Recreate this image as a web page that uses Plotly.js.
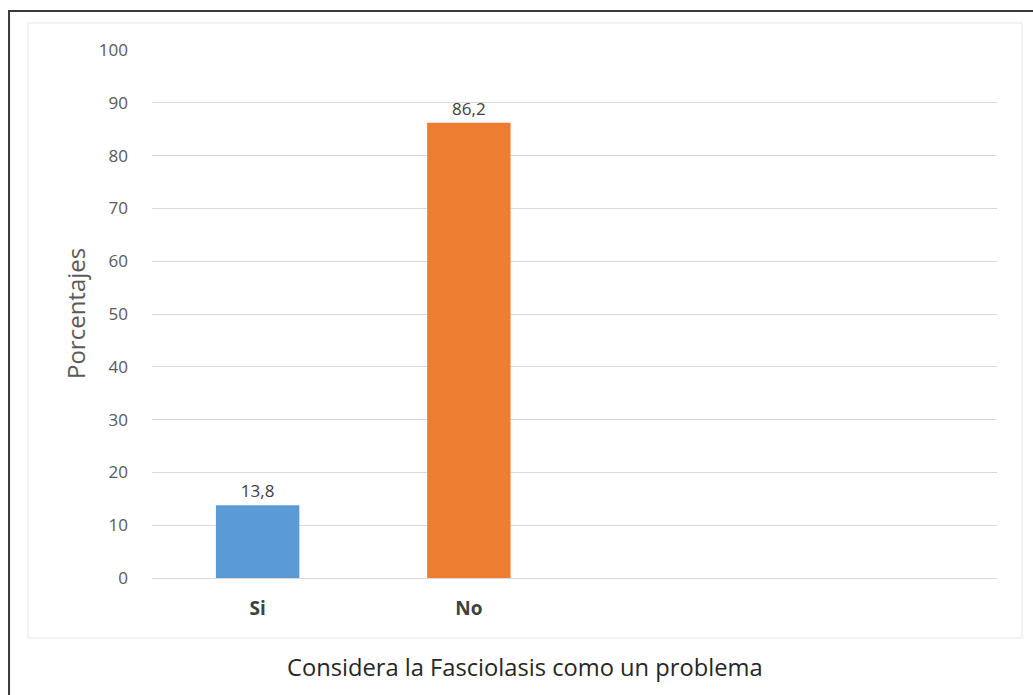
<!DOCTYPE html>
<html>
<head>
<meta charset="utf-8">
<script src="https://cdn.plot.ly/plotly-3.0.1.min.js"></script>
<style>html,body{margin:0;padding:0;background:#fff;}#chart{width:1033px;height:695px;}</style>
</head>
<body>
<div id="chart"></div>
<script>
const categories = ['Si', 'No'];
const percentages = [13.8, 86.2];
const barColors = ['#5B9BD5', '#ED7D31'];
const yTickValues = [0, 10, 20, 30, 40, 50, 60, 70, 80, 90, 100];
const xTitle = 'Considera la Fasciolasis como un problema';
const yTitle = 'Porcentajes';

const font = '"Open Sans", "Noto Sans", sans-serif';

const trace = {
  type: 'bar',
  x: categories,
  y: percentages,
  width: 0.395,
  marker: {color: barColors, line: {width: 0}},
  texttemplate: '%{y:.1f}',
  textposition: 'outside',
  cliponaxis: false,
  textfont: {family: font, size: 17, color: '#404040'},
  hoverinfo: 'x+y'
};

const layout = {
  width: 1033,
  height: 695,
  margin: {l: 152, r: 36, t: 50, b: 117},
  paper_bgcolor: '#ffffff',
  plot_bgcolor: '#ffffff',
  separators: ',.',
  showlegend: false,
  font: {family: font, color: '#595959'},
  xaxis: {
    type: 'category',
    categoryorder: 'array',
    categoryarray: categories,
    range: [-0.5, 3.5],
    showgrid: false,
    zeroline: false,
    showline: false,
    ticks: '',
    ticklabelstandoff: 17,
    tickfont: {family: font, size: 19, color: '#404040', weight: 'bold'},
    automargin: false,
    fixedrange: true
  },
  yaxis: {
    range: [0, 100],
    tickvals: yTickValues,
    showgrid: true,
    gridcolor: '#d9d9d9',
    gridwidth: 1,
    zeroline: true,
    zerolinecolor: '#d9d9d9',
    zerolinewidth: 1,
    showline: false,
    ticks: '',
    ticklabelstandoff: 23,
    tickfont: {family: font, size: 17, color: '#595959'},
    automargin: false,
    fixedrange: true
  },
  annotations: [
    {text: xTitle, xref: 'paper', yref: 'paper', x: 0.4414, y: -0.1686,
     xanchor: 'center', yanchor: 'middle', showarrow: false,
     font: {family: font, size: 23.7, color: '#262626'}},
    {text: yTitle, xref: 'paper', yref: 'paper', x: -0.0911, y: 0.5, textangle: -90,
     xanchor: 'center', yanchor: 'middle', showarrow: false,
     font: {family: font, size: 24, color: '#595959'}}
  ],
  shapes: [
    {type: 'rect', xref: 'paper', yref: 'paper', x0: -0.1467, x1: 1.0296, y0: -0.1136, y1: 1.0511,
     line: {color: '#e6e6e6', width: 1}, fillcolor: 'rgba(0,0,0,0)', layer: 'below'},
    {type: 'rect', xref: 'paper', yref: 'paper', x0: -0.1692, x1: 1.08, y0: -0.24, y1: 1.0739,
     line: {color: '#3a3a3a', width: 2}, fillcolor: 'rgba(0,0,0,0)', layer: 'below'}
  ]
};

Plotly.newPlot('chart', [trace], layout, {displayModeBar: false});
</script>
</body>
</html>
